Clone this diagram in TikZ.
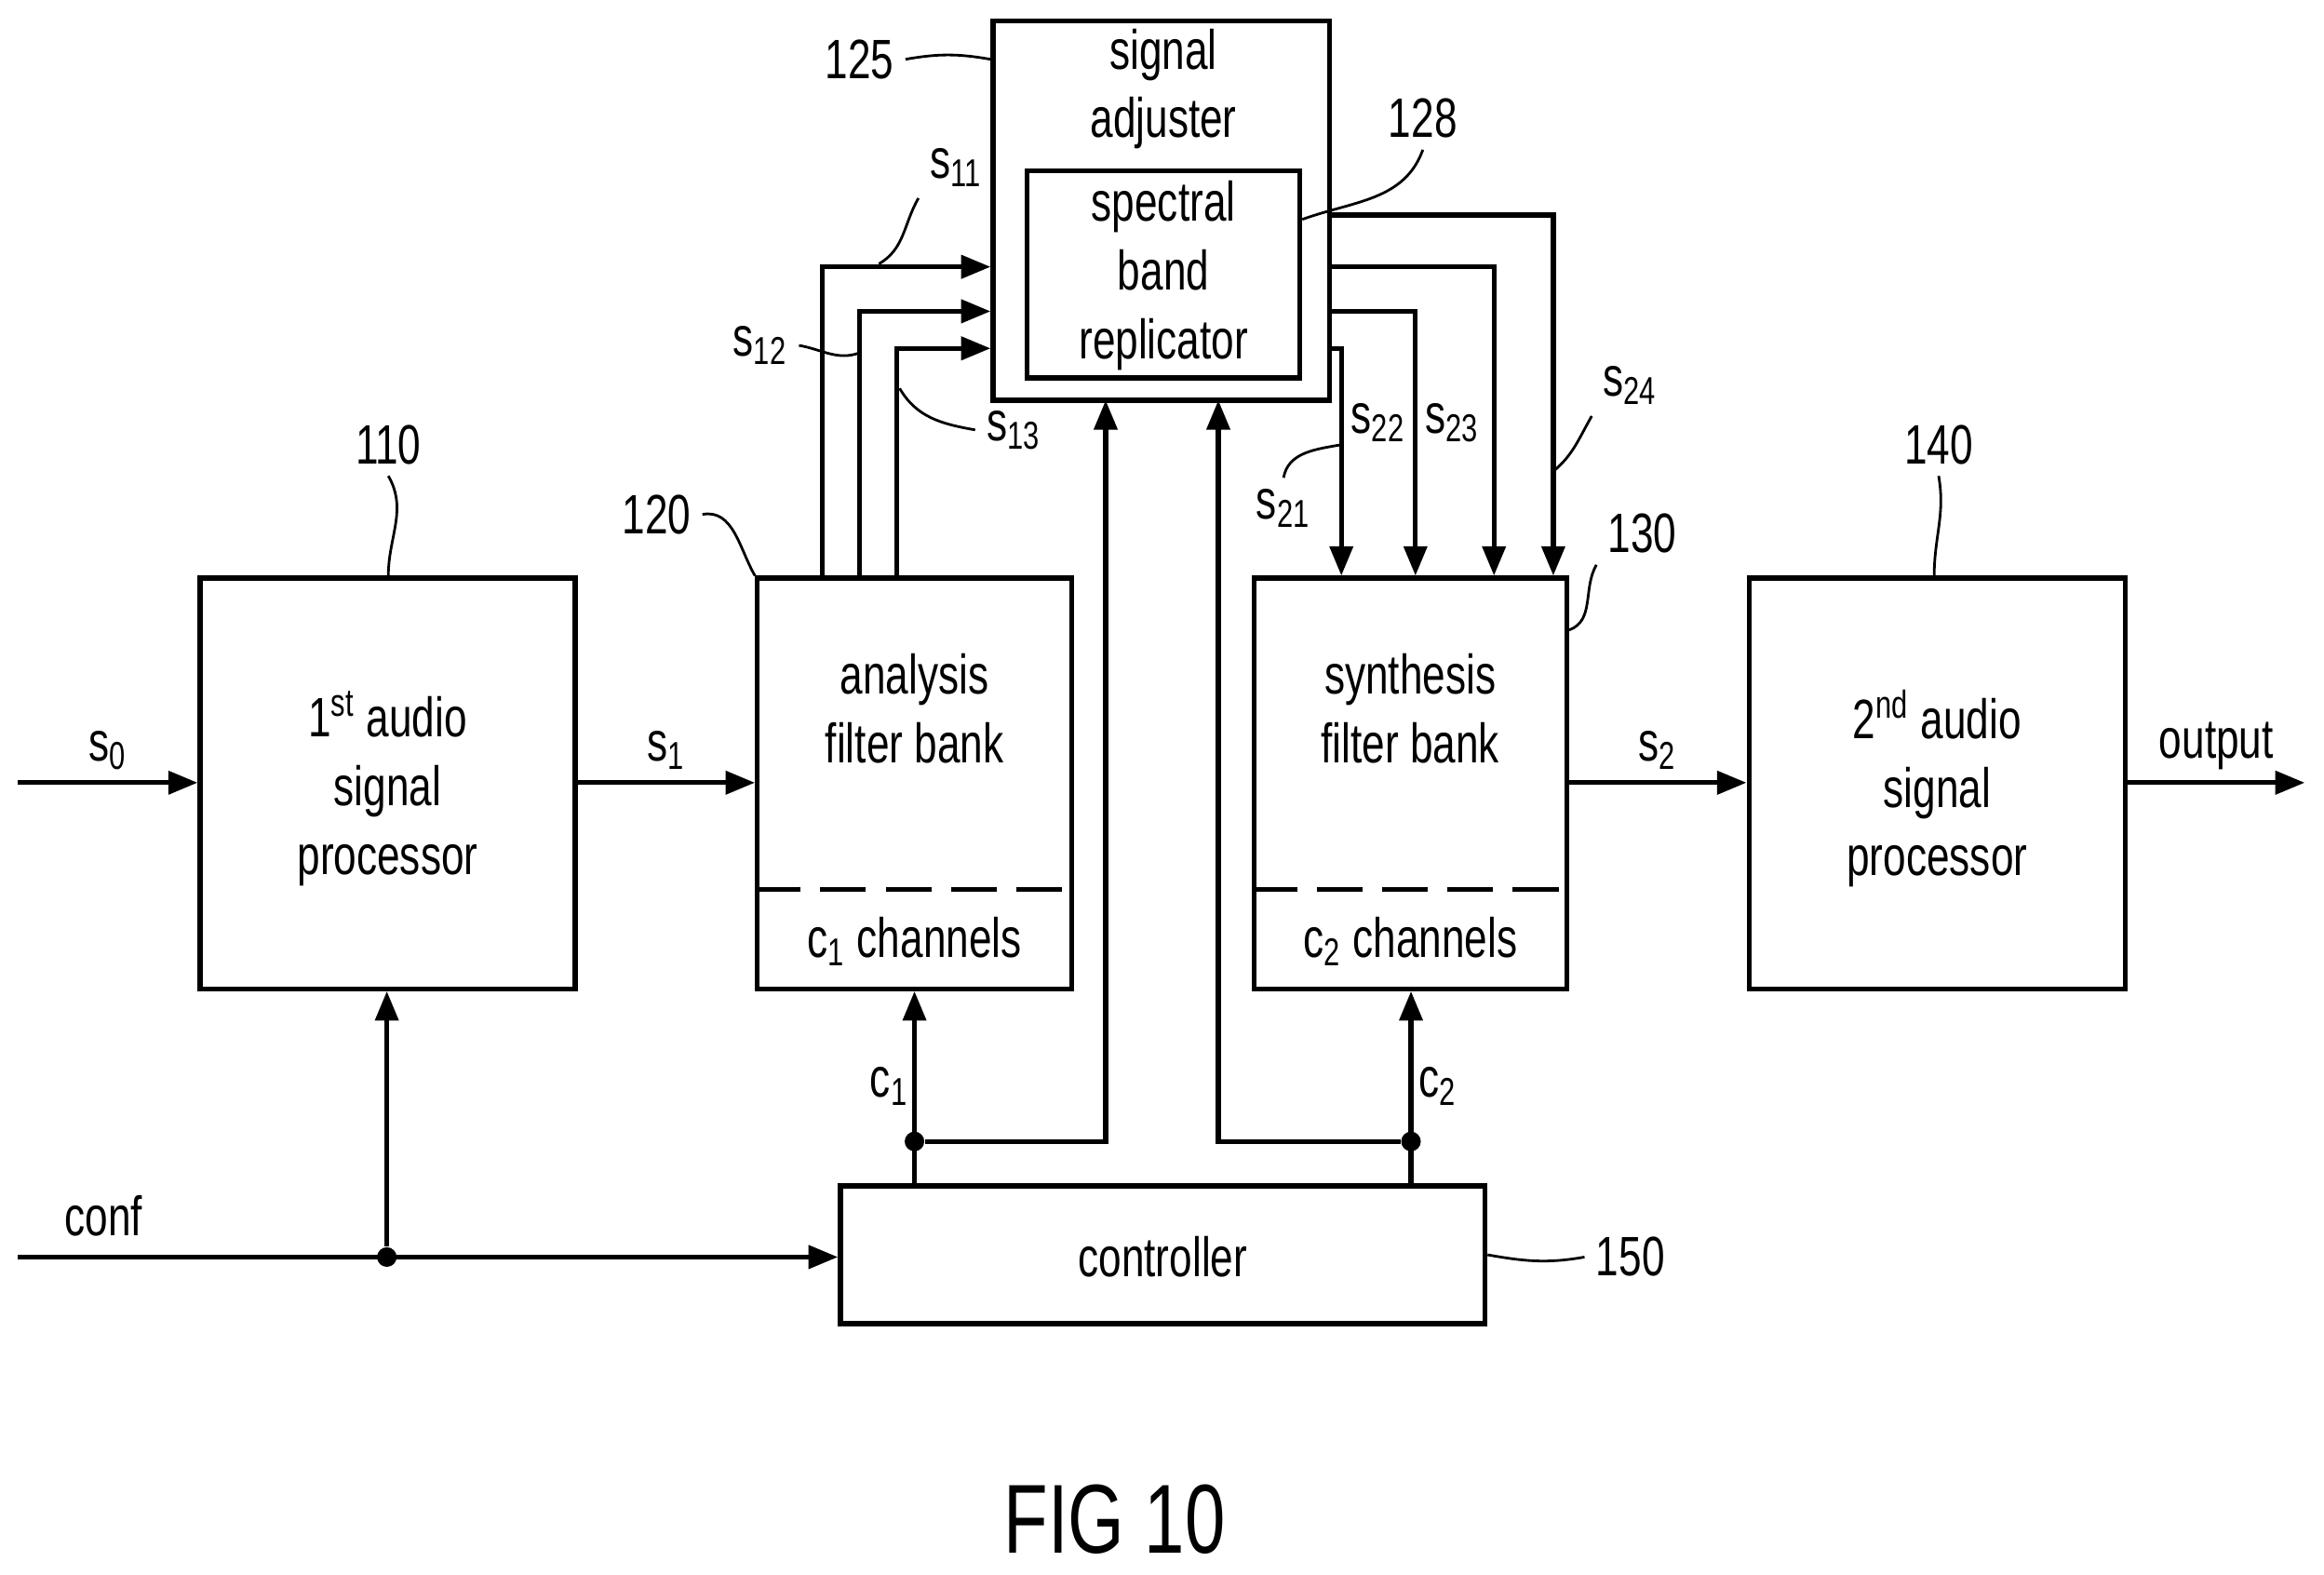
\documentclass[tikz,border=0pt]{standalone}
\usepackage{fontspec}
\setmainfont{Liberation Sans}[FakeStretch=0.74]
\usetikzlibrary{arrows.meta}
\newcommand\px{0.01594cm}
\tikzset{
  blk/.style={draw, line width=1.5pt, inner sep=0pt},
  sig/.style={line width=1.5pt, -{Triangle[length=9pt,width=7pt]}},
  wire/.style={line width=1.5pt},
  ref/.style={line width=0.8pt},
  dot/.style={circle, fill, inner sep=0pt, minimum size=6pt},
  lbl/.style={font=\fontsize{17}{21}\selectfont, align=center}
}
\begin{document}
\begin{tikzpicture}[x=\px, y=-\px, lbl]
  \useasboundingbox (0,0) rectangle (1568,1062);
  % blocks
  \node[blk, minimum width=253*\px, minimum height=277*\px] (P1) at (261.5,528.5) {};
  \node[lbl] (P1t) at (261.5,532) {1\textsuperscript{st} audio\\signal\\processor};
  \node[blk, minimum width=212*\px, minimum height=277*\px] (AFB) at (617,528.5) {};
  \node[lbl] (AFBt) at (617,478) {analysis\\filter bank};
  \node[lbl] (AFBc) at (617,635) {c\textsubscript{1} channels};
  \draw[wire, dash pattern=on 14pt off 6pt] (AFB.west |- 0,600) -- (AFB.east |- 0,600);
  \node[blk, minimum width=211*\px, minimum height=277*\px] (SFB) at (951.5,528.5) {};
  \node[lbl] (SFBt) at (951.5,478) {synthesis\\filter bank};
  \node[lbl] (SFBc) at (951.5,635) {c\textsubscript{2} channels};
  \draw[wire, dash pattern=on 14pt off 6pt] (SFB.west |- 0,600) -- (SFB.east |- 0,600);
  \node[blk, minimum width=254*\px, minimum height=277*\px] (P2) at (1307,528.5) {};
  \node[lbl] (P2t) at (1307,532) {2\textsuperscript{nd} audio\\signal\\processor};
  \node[blk, minimum width=227*\px, minimum height=256*\px] (SA) at (783.5,142) {};
  \node[lbl] (SAt) at (785,60) {signal\\adjuster};
  \node[blk, minimum width=184*\px, minimum height=140*\px] (SBR) at (785,185) {};
  \node[lbl] (SBRt) at (785,186) {spectral\\band\\replicator};
  \node[blk, minimum width=435*\px, minimum height=93*\px] (CTL) at (784.5,846.5) {};
  \node[lbl] (CTLt) at (784.5,848) {controller};
  % main signal path
  \coordinate (in) at (12,528);
  \coordinate (out) at (1555,528);
  \coordinate (cin) at (12,848);
  \draw[sig] (in) -- node[above, pos=0.5] {s\textsubscript{0}} (P1.west |- in);
  \draw[sig] (P1.east |- in) -- node[above] {s\textsubscript{1}} (AFB.west |- in);
  \draw[sig] (SFB.east |- in) -- node[above] {s\textsubscript{2}} (P2.west |- in);
  \draw[sig] (P2.east |- in) -- node[above] {output} (out);
  \node (conf) at (70,820) {conf};
  \node[dot] (d0) at (261,848) {};
  \draw[sig] (cin) -- (CTL.west |- cin);
  \draw[sig] (d0) -- (P1.south -| d0);
  % controller
  \node[dot] (d1) at (617,770) {};
  \node[dot] (d2) at (952,770) {};
  \draw[sig] (CTL.north -| d1) -- (AFB.south -| d1);
  \draw[sig] (CTL.north -| d2) -- (SFB.south -| d2);
  \draw[sig] (d1) -| (746,270);
  \draw[sig] (d2) -| (822,270);
  \node (c1) at (600,733) {c\textsubscript{1}};
  \node (c2) at (970,733) {c\textsubscript{2}};
  % analysis outputs
  \foreach \x/\y in {555/180, 580/210, 605/235}
    \draw[sig] (AFB.north -| \x,0) |- (SA.west |- 0,\y);
  % synthesis inputs
  \foreach \x/\y in {1048/145, 1008/180, 955/210, 905/235}
    \draw[sig] (SA.east |- 0,\y) -| (SFB.north -| \x,0);
  % signal labels
  \node (s11) at (645,113) {s\textsubscript{11}};
  \node (s12) at (513,233) {s\textsubscript{12}};
  \node (s13) at (684,290) {s\textsubscript{13}};
  \node (s21) at (866,343) {s\textsubscript{21}};
  \node (s22) at (930,285) {s\textsubscript{22}};
  \node (s23) at (980,285) {s\textsubscript{23}};
  \node (s24) at (1100,260) {s\textsubscript{24}};
  \draw[ref] (s11.south west) to[out=-120, in=30] (593,178);
  \draw[ref] (s12.east) to[out=-10, in=-160] (580,238);
  \draw[ref] (s13.west) to[out=170, in=-60] (607,262);
  \draw[ref] (s21.north) to[out=80, in=-170] (905,300);
  \draw[ref] (s24.south west) to[out=-120, in=40] (1048,318);
  % reference numerals
  \node (n110) at (262,300) {110};
  \node (n120) at (443,347) {120};
  \node (n125) at (580,40) {125};
  \node (n128) at (960,80) {128};
  \node (n130) at (1108,360) {130};
  \node (n140) at (1308,300) {140};
  \node (n150) at (1100,848) {150};
  \draw[ref] (n110.south) to[out=-60, in=90] (P1.north -| 262,0);
  \draw[ref] (n120.east) to[out=10, in=120] (AFB.north west);
  \draw[ref] (n125.east) to[out=10, in=170] (SA.west |- 0,40);
  \draw[ref] (n128.south) to[out=-110, in=20] (SBR.east |- 0,148);
  \draw[ref] (n130.south west) to[out=-120, in=20] (SFB.east |- 0,425);
  \draw[ref] (n140.south) to[out=-80, in=90] (P2.north -| 1305,0);
  \draw[ref] (n150.west) to[out=190, in=-10] (CTL.east);
  \node[font=\fontsize{30}{36}\selectfont] (fig) at (752,1025) {FIG 10};
\end{tikzpicture}
\end{document}
